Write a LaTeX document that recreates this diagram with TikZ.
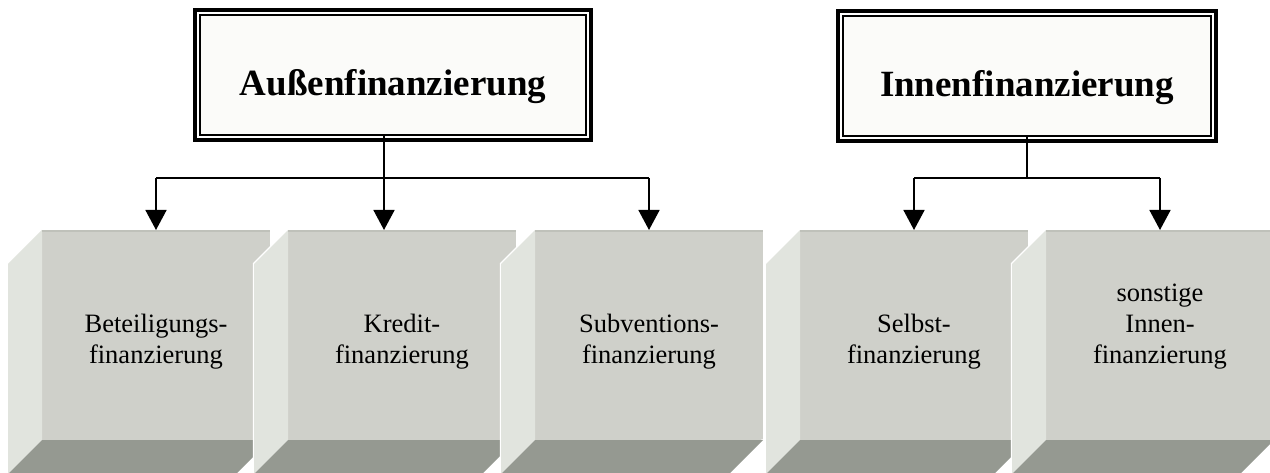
\documentclass[tikz,border=0pt]{standalone}
\usepackage{fontspec}
\setmainfont{Liberation Serif}
\usetikzlibrary{positioning,arrows.meta}

\definecolor{facegray}{HTML}{CFD0CA}
\definecolor{facetop}{HTML}{BFC1BA}
\definecolor{sidegray}{HTML}{E1E4DE}
\definecolor{floorgray}{HTML}{959991}
\definecolor{titlefill}{HTML}{FBFBF9}

\tikzset{
  titlebox/.style={draw, line width=1.5pt, fill=titlefill, outer sep=0pt,
    minimum height=120pt, text height=42pt, text depth=0pt,
    font=\fontsize{37}{40}\selectfont\bfseries},
  facebox/.style={fill=facegray, minimum width=228pt, minimum height=210pt,
    inner sep=0pt, outer sep=0pt},
  btext/.style={align=center, anchor=south, inner sep=0pt,
    font=\fontsize{26.5}{31}\selectfont},
  verb/.style={line width=1.6pt},
  pfeil/.style={line width=1.6pt, -{Triangle[length=20pt,width=21pt]}}
}

\begin{document}
\begin{tikzpicture}[x=1pt,y=-1pt]
\useasboundingbox (0,0) rectangle (1270,473);
\clip (0,0) rectangle (1270,473);

% headings
\node[titlebox, minimum width=386pt] (aussen) at (393,75) {Außenfinanzierung};
\draw[line width=4pt] ([shift={(-5,-5)}]aussen.north west) rectangle ([shift={(5,5)}]aussen.south east);
\node[titlebox, minimum width=368pt] (innen) at (1027,76) {Innenfinanzierung};
\draw[line width=4pt] ([shift={(-5,-5)}]innen.north west) rectangle ([shift={(5,5)}]innen.south east);

% blocks
\foreach \n/\x/\t in {beteil/156/{Beteiligungs-\\finanzierung},
                      kredit/402/{Kredit-\\finanzierung},
                      subv/649/{Subventions-\\finanzierung},
                      selbst/914/{Selbst-\\finanzierung},
                      sonst/1160/{sonstige\\Innen-\\finanzierung}}{
  \node[facebox] (\n) at (\x,335) {};
  \draw[white, line width=2.5pt] (\n.north west) -- ++(-34,34)
    -- ([shift={(-34,34)}]\n.south west) -- ([shift={(-34,34)}]\n.south east) -- (\n.south east);
  \fill[sidegray] (\n.north west) -- ++(-34,34) -- ([shift={(-34,34)}]\n.south west)
    -- (\n.south west) -- cycle;
  \fill[floorgray] (\n.south west) -- (\n.south east) -- ([shift={(-34,34)}]\n.south east)
    -- ([shift={(-34,34)}]\n.south west) -- cycle;
  \draw[facetop, line width=2pt] ([yshift=-1pt]\n.north west) -- ([yshift=-1pt]\n.north east);
  \node[btext] (\n-t) at ([yshift=-34pt]\n.center) {\t};
}

% connectors
\coordinate (abus) at (0,178);
\coordinate (kin) at ([xshift=-18pt]kredit.north);
\draw[verb] (aussen.south -| kin) -- (abus -| kin);
\draw[verb] (abus -| beteil.north) -- (abus -| subv.north);
\draw[pfeil] (abus -| beteil.north) -- (beteil.north);
\draw[pfeil] (abus -| kin) -- (kin);
\draw[pfeil] (abus -| subv.north) -- (subv.north);

\draw[verb] (innen.south) -- (abus -| innen.south);
\draw[verb] (abus -| selbst.north) -- (abus -| sonst.north);
\draw[pfeil] (abus -| selbst.north) -- (selbst.north);
\draw[pfeil] (abus -| sonst.north) -- (sonst.north);
\end{tikzpicture}
\end{document}
